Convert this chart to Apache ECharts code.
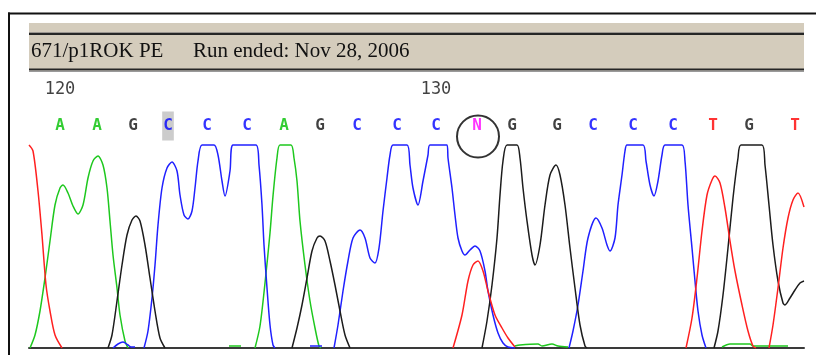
<!DOCTYPE html>
<html><head><meta charset="utf-8">
<script src="https://cdn.jsdelivr.net/npm/echarts@6/dist/echarts.min.js"></script>
<style>html,body{margin:0;padding:0;background:#fff}#c{width:816px;height:355px}</style>
</head><body><div id="c"></div>
<script>
// ---- data ----
const runLabel = '671/p1ROK PE';
const runInfo = 'Run ended: Nov 28, 2006';
const firstBase = 120;
const baseCalls = ['A','A','G','C','C','C','A','G','C','C','C','N','G','G','C','C','C','T','G','T'];
// scan position of each called base
const basePos = [60,97,133,168,207,247,284,320,357,397,436,477,512,557,593,633,673,713,749,795];
const tickBases = [120,130];
const highlightedBase = 123;
const circledBase = 131;
const scanMin = 29, scanMax = 804, signalMax = 205;

// trace segments: [scan, signal]
const traceT = [
  [[29,203],[33,197],[38,157],[42,113],[46,63],[50,37],[55,13],[62,0]],
  [[453,0],[462,33],[468,67],[473,83],[478,87],[483,77],[488,57],[495,33],[502,20],[508,10],[515,1]],
  [[686,0],[692,30],[697,70],[702,117],[707,153],[712,168],[715,172],[720,165],[725,140],[730,107],[735,77],[742,43],[748,17],[753,2],[756,0]],
  [[769,0],[773,23],[778,60],[783,100],[788,130],[793,148],[798,155],[804,141]]
];
const traceA = [
  [[30,0],[35,13],[40,37],[45,70],[50,107],[55,143],[60,160],[63,163],[68,155],[73,142],[78,134],[83,143],[88,170],[93,187],[98,192],[103,183],[107,160],[110,127],[113,93],[117,60],[120,33],[125,7],[128,0]],
  [[229,2],[241,2]],
  [[255,0],[260,22],[265,65],[270,115],[273,152],[277,190],[280,203],[291,203],[294,190],[297,167],[300,127],[305,83],[310,47],[315,20],[319,2],[321,0]],
  [[515,2],[520,3],[538,4],[542,2],[552,4],[558,2],[568,1]],
  [[722,1],[730,4],[750,4],[753,2],[788,2]]
];
const traceG = [
  [[108,0],[112,13],[117,47],[122,83],[127,113],[132,128],[136,132],[140,127],[145,103],[150,70],[155,37],[160,10],[165,0]],
  [[292,0],[297,20],[302,43],[307,70],[312,97],[317,110],[320,112],[325,107],[330,87],[335,63],[340,37],[345,13],[350,0]],
  [[482,0],[487,27],[492,63],[497,110],[500,153],[503,187],[507,203],[517,203],[520,190],[523,160],[527,127],[532,93],[535,83],[540,103],[545,143],[550,173],[556,183],[560,173],[565,143],[570,100],[575,60],[580,23],[585,2],[587,0]],
  [[714,0],[718,17],[723,53],[728,100],[733,150],[738,190],[741,203],[762,203],[765,183],[769,143],[773,103],[778,67],[783,45],[785,43],[790,50],[795,58],[800,65],[804,67]]
];
const traceC = [
  [[113,0],[118,4],[123,6],[128,3],[131,1],[135,1]],
  [[144,0],[148,17],[152,50],[155,83],[158,123],[162,160],[167,180],[172,186],[177,177],[180,153],[184,133],[188,129],[192,137],[195,160],[198,187],[202,203],[214,203],[218,193],[222,167],[225,152],[230,177],[233,203],[256,203],[259,183],[262,143],[264,103],[267,60],[270,23],[273,3],[275,0]],
  [[310,2],[322,2]],
  [[334,0],[338,23],[343,57],[348,87],[353,110],[360,118],[365,110],[370,90],[375,85],[379,100],[383,137],[387,170],[390,193],[393,203],[407,203],[410,183],[413,160],[418,143],[423,167],[428,193],[430,203],[447,203],[448,190],[452,160],[455,133],[458,110],[462,97],[465,93],[470,98],[475,102],[480,97],[485,77],[488,57],[493,33],[498,15],[503,5],[508,1],[515,0]],
  [[569,0],[573,17],[578,43],[583,77],[588,110],[596,130],[602,120],[607,103],[610,97],[615,110],[618,143],[622,173],[625,197],[627,203],[643,203],[646,187],[650,163],[654,152],[658,167],[662,193],[665,203],[682,203],[685,187],[688,143],[692,100],[695,67],[698,37],[702,13],[706,0]]
];

// ---- styling ----
const traceColor = {A:'#1ec81e', C:'#2020ff', G:'#1c1c1c', T:'#ff2020'};
const callColor = {A:'#00c000', C:'#0000ff', G:'#111111', T:'#ff0000', N:'#ff00ff'};
const traces = {A:traceA, C:traceC, G:traceG, T:traceT};

const chart = echarts.init(document.getElementById('c'), null, {renderer:'canvas'});

const series = [];
Object.keys(traces).forEach(k => {
  traces[k].forEach(seg => {
    series.push({
      type:'line', xAxisIndex:0, yAxisIndex:0, data:seg, smooth:0.28,
      showSymbol:false, symbol:'none', animation:false, silent:true,
      lineStyle:{color:traceColor[k], width:1.5}, z:3
    });
  });
});

// base calls row
series.push({
  type:'scatter', xAxisIndex:1, yAxisIndex:1, symbol:'rect', symbolSize:1,
  itemStyle:{color:'rgba(0,0,0,0)'}, animation:false, silent:true, z:5,
  data: baseCalls.map((b,i) => {
    const item = {value:[basePos[i], 14], label:{color:callColor[b]}};
    if (firstBase + i === highlightedBase) {
      item.label.backgroundColor = '#bfbfbf';
      item.label.padding = [7,1,6,1];
    }
    return item;
  }),
  label:{show:true, position:'inside', formatter:p => baseCalls[p.dataIndex],
    fontFamily:'DejaVu Sans Mono', fontSize:16, fontWeight:'bold'}
});
// base number ticks
series.push({
  type:'scatter', xAxisIndex:1, yAxisIndex:1, symbol:'rect', symbolSize:1,
  itemStyle:{color:'rgba(0,0,0,0)'}, animation:false, silent:true, z:5,
  data: tickBases.map(n => ({value:[basePos[n-firstBase], 50], name:String(n)})),
  label:{show:true, position:'inside', formatter:p => p.name, color:'#111',
    fontFamily:'DejaVu Sans Mono', fontSize:17}
});
// circled ambiguous call
series.push({
  type:'scatter', xAxisIndex:1, yAxisIndex:1, symbol:'circle', symbolSize:42,
  itemStyle:{color:'rgba(0,0,0,0)', borderColor:'#000', borderWidth:2},
  animation:false, silent:true, z:6, clip:false,
  data:[[basePos[circledBase-firstBase]+1, 3.5]]
});

chart.setOption({
  animation:false,
  backgroundColor:'#ffffff',
  grid:[
    {left:scanMin, width:scanMax-scanMin, top:143, height:205},
    {left:scanMin, width:scanMax-scanMin, top:80, height:60}
  ],
  xAxis:[
    {type:'value', gridIndex:0, min:scanMin, max:scanMax,
      axisLine:{show:true, onZero:false, lineStyle:{color:'#3a3a3a', width:2}},
      axisTick:{show:false}, axisLabel:{show:false}, splitLine:{show:false}},
    {type:'value', gridIndex:1, min:scanMin, max:scanMax, show:false}
  ],
  yAxis:[
    {type:'value', gridIndex:0, min:0, max:signalMax, show:false, splitLine:{show:false}},
    {type:'value', gridIndex:1, min:0, max:60, show:false}
  ],
  graphic:[
    // outer frame
    {type:'rect', shape:{x:8, y:12.5, width:810, height:2}, style:{fill:'#111'}, silent:true},
    {type:'rect', shape:{x:8, y:12.5, width:2, height:345}, style:{fill:'#111'}, silent:true},
    // header band
    {type:'rect', shape:{x:29, y:23, width:775, height:49}, style:{fill:'#d4ccbc'}, silent:true},
    {type:'rect', shape:{x:29, y:32, width:775, height:1}, style:{fill:'#9a9590'}, silent:true},
    {type:'rect', shape:{x:29, y:33, width:775, height:2}, style:{fill:'#262626'}, silent:true},
    {type:'rect', shape:{x:29, y:68.5, width:775, height:2}, style:{fill:'#262626'}, silent:true},
    {type:'rect', shape:{x:29, y:70.5, width:775, height:1.5}, style:{fill:'#9a9a9a'}, silent:true},
    {type:'text', left:31, top:41, style:{text:runLabel, font:'21px "Liberation Serif"', fill:'#111'}, silent:true},
    {type:'text', left:193, top:41, style:{text:runInfo, font:'21px "Liberation Serif"', fill:'#111'}, silent:true}
  ],
  series
});
</script>
</body></html>
